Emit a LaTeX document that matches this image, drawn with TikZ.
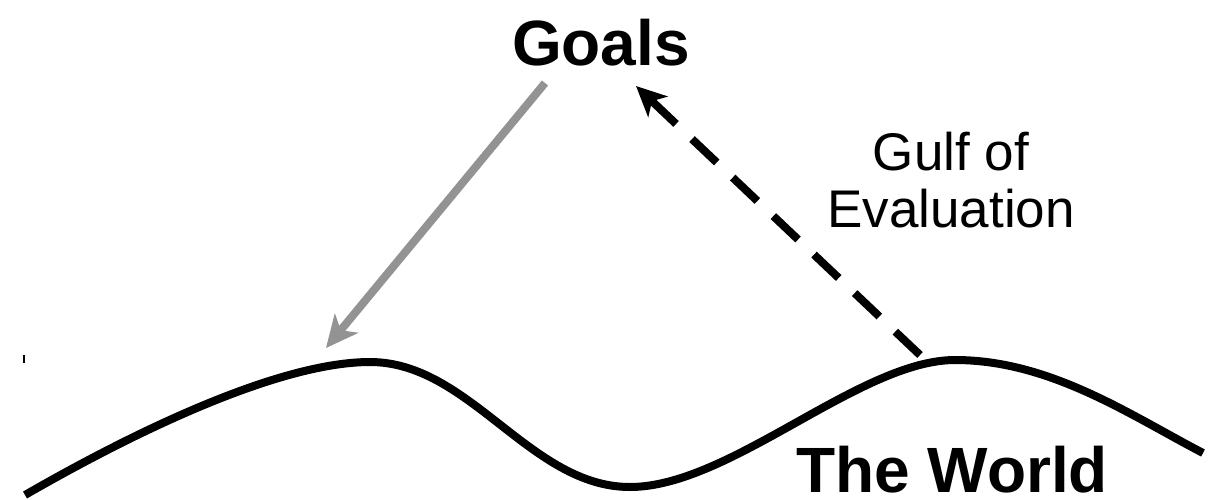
\documentclass[tikz,border=0pt]{standalone}
\usepackage{fontspec}
\setmainfont{Liberation Sans}
\usetikzlibrary{arrows.meta}
\tikzset{
  bigbold/.style={font=\fontsize{64}{76}\selectfont\bfseries, inner sep=0pt},
  gulftext/.style={font=\fontsize{53}{57}\selectfont, align=center, inner sep=0pt},
  actionarrow/.style={draw={rgb,255:red,147;green,147;blue,147}, line width=8pt,
    -{Stealth[length=32pt,width=30pt,inset=9pt]}},
  evalarrow/.style={draw=black, line width=8pt, dash pattern=on 34pt off 22pt,
    -{Stealth[length=30pt,width=28pt,inset=8pt]}},
  worldline/.style={draw=black, line width=8pt},
}
\begin{document}
\begin{tikzpicture}[x=1pt,y=-1pt]
\useasboundingbox (0,0) rectangle (1214,499);
\node[bigbold, anchor=base] (goals) at (601,65) {Goals};
\node[bigbold, anchor=base, text depth=0pt] (world) at (952,492) {The World};
\node[gulftext, anchor=base] (gulf) at (951,227) {Gulf of\\Evaluation};
\coordinate (gA) at (545,83);
\coordinate (wA) at (326,348);
\coordinate (wB) at (920,355);
\coordinate (gB) at (636,86);
\coordinate (c0) at (25,495);
\coordinate (p1) at (370,362);
\coordinate (t1) at (630,487);
\coordinate (p2) at (955,360);
\coordinate (c1) at (1203,453);
\draw[worldline] (c0) .. controls (150,423) and (285,362) .. (p1)
  .. controls (470,362) and (530,487) .. (t1)
  .. controls (730,487) and (860,360) .. (p2)
  .. controls (1050,360) and (1130,415) .. (c1);
\draw[actionarrow] (gA) -- (wA);
\draw[evalarrow] (wB) -- (gB);
\coordinate (k0) at (24,355);
\coordinate (k1) at (24,363);
\draw[line width=1.2pt] (k0) -- (k1);
\end{tikzpicture}
\end{document}
